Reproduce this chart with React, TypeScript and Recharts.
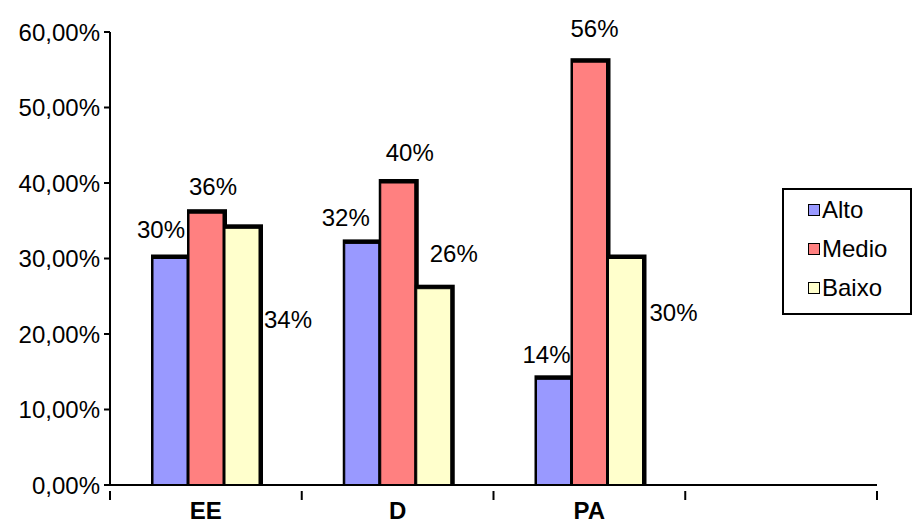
import React from 'react';
import { BarChart, Bar, XAxis, YAxis, LabelList } from 'recharts';

const categories = ['EE', 'D', 'PA', ''];
const alto = [30, 32, 14, null];
const medio = [36, 40, 56, null];
const baixo = [34, 26, 30, null];
const yTicks = [0, 10, 20, 30, 40, 50, 60];

const series = [
    { key: 'alto', name: 'Alto', color: '#9999FF' },
    { key: 'medio', name: 'Medio', color: '#FF8080' },
    { key: 'baixo', name: 'Baixo', color: '#FFFFCC' },
];

// label placement relative to the top centre of each bar (as in the original sheet)
const labelOffsets: Record<string, [number, number][]> = {
    alto: [[-9, -29], [-16, -26], [-7, -25]],
    medio: [[7, -27], [12, -31], [5, -34]],
    baixo: [[46, 91], [20, -35], [48, 54]],
};

const data = categories.map((c, i) => ({
    name: c,
    alto: alto[i],
    medio: medio[i],
    baixo: baixo[i],
}));

const FONT = '"Liberation Sans", Arial, sans-serif';
const BAND = 767 / categories.length;

const ShadowBar = (props: any) => {
    const { x, y, width, height, fill } = props;
    if (!height || height <= 0) return null;
    return (
        <g>
            <rect x={x - 1} y={y - 4} width={width + 4} height={height + 4} fill="#000" />
            <rect x={x + 1} y={y} width={width - 2} height={height} fill={fill} stroke="#000" strokeWidth={1} />
        </g>
    );
};

const makeLabel = (key: string) => (props: any) => {
    const { x, y, width, value, index } = props;
    if (value == null) return null;
    const [dx, dy] = labelOffsets[key][index] || [0, -25];
    return (
        <text
            x={x + width / 2 + dx}
            y={y + dy}
            textAnchor="middle"
            dominantBaseline="central"
            fontFamily={FONT}
            fontSize={24}
            fill="#000"
        >
            {value}%
        </text>
    );
};

const CategoryTick = (props: any) => {
    const { x, y, payload, index } = props;
    const left = x - BAND / 2;
    return (
        <g>
            <line x1={left} y1={y - 2} x2={left} y2={y + 7} stroke="#000" strokeWidth={2} />
            {index === categories.length - 1 && (
                <line x1={x + BAND / 2} y1={y - 2} x2={x + BAND / 2} y2={y + 7} stroke="#000" strokeWidth={2} />
            )}
            <text x={x} y={y + 26} textAnchor="middle" fontFamily={FONT} fontWeight="bold" fontSize={24} fill="#000">
                {payload.value}
            </text>
        </g>
    );
};

const LegendBox = () => (
    <div
        style={{
            position: 'absolute',
            left: 782,
            top: 188,
            border: '2px solid #000',
            width: 126,
            height: 123,
            fontFamily: FONT,
            fontSize: 24,
            background: '#fff',
        }}
    >
        {series.map((s) => (
            <div key={s.key} style={{ display: 'flex', alignItems: 'center', height: 39, paddingLeft: 24, lineHeight: '24px' }}>
                <span
                    style={{
                        display: 'inline-block',
                        width: 10,
                        height: 10,
                        background: s.color,
                        border: '1.5px solid #000',
                        marginRight: 2,
                    }}
                />
                <span>{s.name}</span>
            </div>
        ))}
    </div>
);

export default function App() {
    return (
        <div style={{ position: 'absolute', left: 0, top: 0, width: 914, height: 525, background: '#fff' }}>
            <BarChart
                width={914}
                height={525}
                data={data}
                margin={{ top: 32, right: 37, bottom: 0, left: 0 }}
                barSize={36}
                barGap={0}
            >
                <XAxis
                    dataKey="name"
                    height={40}
                    axisLine={{ stroke: '#000', strokeWidth: 2 }}
                    tickLine={false}
                    tick={<CategoryTick />}
                    interval={0}
                />
                <YAxis
                    width={110}
                    domain={[0, 60]}
                    ticks={yTicks}
                    interval={0}
                    axisLine={{ stroke: '#000', strokeWidth: 2 }}
                    tickLine={{ stroke: '#000', strokeWidth: 2 }}
                    tickSize={6}
                    tickMargin={4}
                    tick={{ fill: '#000', fontSize: 24, fontFamily: FONT }}
                    tickFormatter={(v: number) => v.toFixed(2).replace('.', ',') + '%'}
                />
                {series.map((s) => (
                    <Bar
                        key={s.key}
                        dataKey={s.key}
                        name={s.name}
                        fill={s.color}
                        shape={<ShadowBar />}
                        isAnimationActive={false}
                    >
                        <LabelList dataKey={s.key} content={makeLabel(s.key)} />
                    </Bar>
                ))}
            </BarChart>
            <LegendBox />
        </div>
    );
}
